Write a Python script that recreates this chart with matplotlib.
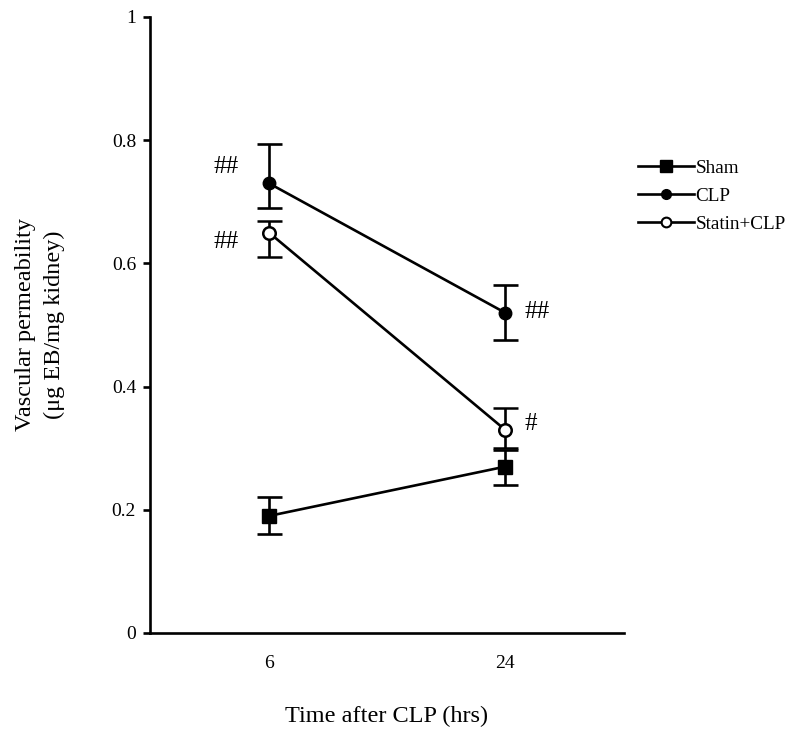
import matplotlib
matplotlib.use("Agg")
import matplotlib.pyplot as plt
from matplotlib.lines import Line2D

plt.rcParams['font.family'] = ['Liberation Serif', 'DejaVu Serif']

times = ['6', '24']
sham = [0.19, 0.27]
sham_err_lo = [0.03, 0.03]
sham_err_hi = [0.03, 0.027]
clp = [0.73, 0.52]
clp_err_lo = [0.04, 0.045]
clp_err_hi = [0.063, 0.045]
statin = [0.65, 0.33]
statin_err_lo = [0.04, 0.03]
statin_err_hi = [0.018, 0.035]
annotations = [('##', 0, 0.757, 'left'), ('##', 0, 0.635, 'left'),
               ('##', 1, 0.521, 'right'), ('#', 1, 0.339, 'right')]

fig = plt.figure(figsize=(8, 7.29), dpi=100)
ax = fig.add_axes([0.1875, 0.1317, 0.5925, 0.845])
x = list(range(len(times)))

common = dict(color='black', lw=1.9, capsize=9, capthick=1.9, elinewidth=1.9)
ax.errorbar(x, sham, yerr=[sham_err_lo, sham_err_hi], marker='s', ms=10,
            mfc='black', mec='black', **common)
ax.errorbar(x, clp, yerr=[clp_err_lo, clp_err_hi], marker='o', ms=9,
            mfc='black', mec='black', **common)
ax.errorbar(x, statin, yerr=[statin_err_lo, statin_err_hi], marker='o', ms=9,
            mfc='white', mec='black', mew=1.8, **common, zorder=5)

for txt, xi, yv, side in annotations:
    if side == 'left':
        ax.annotate(txt, (xi, yv), xytext=(-22, 0), textcoords='offset points',
                    ha='right', va='center', fontsize=18)
    else:
        ax.annotate(txt, (xi, yv), xytext=(14, 0), textcoords='offset points',
                    ha='left', va='center', fontsize=18)

ax.set_xlim(-0.504, 1.504)
ax.set_ylim(0, 1)
ax.set_xticks(x)
ax.set_xticklabels(times, fontsize=14)
ax.set_yticks([0, 0.2, 0.4, 0.6, 0.8, 1])
ax.set_yticklabels(['0', '0.2', '0.4', '0.6', '0.8', '1'], fontsize=14)
ax.tick_params(axis='x', length=0, pad=16)
ax.tick_params(axis='y', length=5, width=1.9, direction='out', pad=5)
for s in ['top', 'right']:
    ax.spines[s].set_visible(False)
for s in ['left', 'bottom']:
    ax.spines[s].set_linewidth(1.9)

ax.set_xlabel('Time after CLP (hrs)', fontsize=17.5, labelpad=24)
ax.set_ylabel('Vascular permeability\n(μg EB/mg kidney)', fontsize=17.5,
              labelpad=34, linespacing=1.45)

handles = [
    Line2D([], [], color='black', lw=1.9, marker='s', ms=8, mfc='black'),
    Line2D([], [], color='black', lw=1.9, marker='o', ms=7, mfc='black'),
    Line2D([], [], color='black', lw=1.9, marker='o', ms=7, mfc='white', mew=1.5),
]
fig.legend(handles, ['Sham', 'CLP', 'Statin+CLP'], loc='upper left',
           bbox_to_anchor=(0.776, 0.805), frameon=False, fontsize=13.8,
           handlelength=2.9, handletextpad=0.1, labelspacing=0.55)

fig.savefig('out.png', dpi=100)
